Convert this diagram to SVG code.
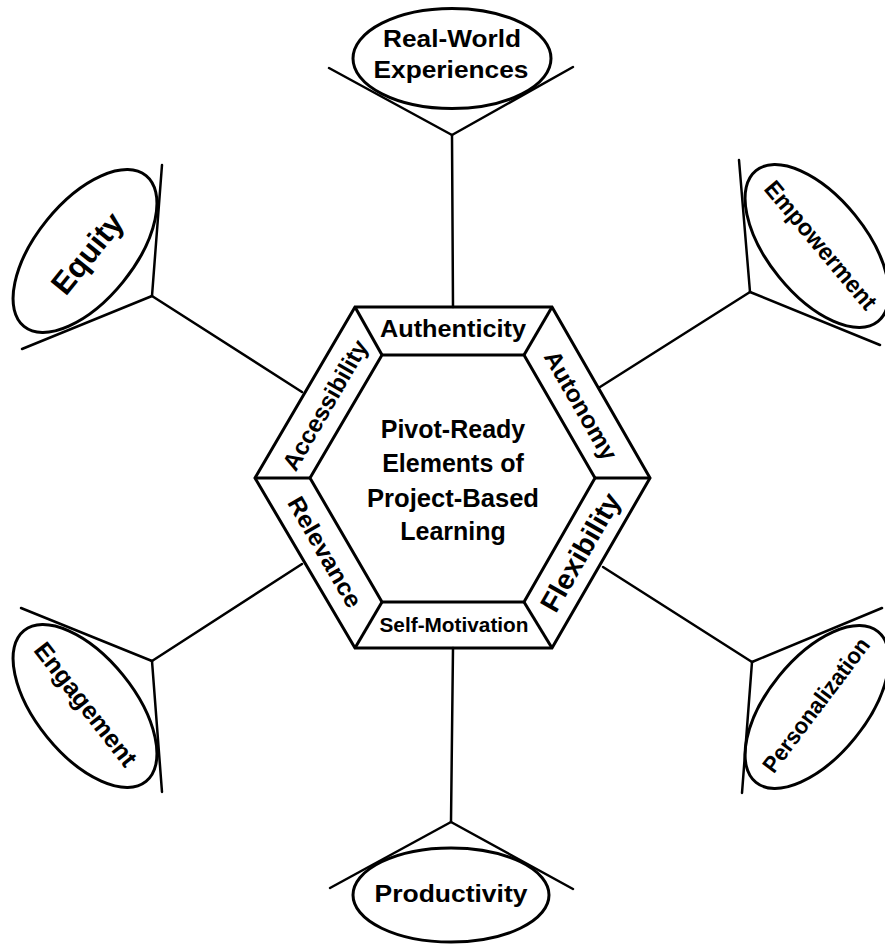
<svg xmlns="http://www.w3.org/2000/svg" width="885" height="944" viewBox="0 0 885 944">
<style>
.ln{stroke:#000;stroke-width:2.5;fill:none;stroke-linecap:round}
.el{stroke:#000;stroke-width:3;fill:none}
.hx{stroke:#000;stroke-width:3;fill:none;stroke-linejoin:miter}
.t{font-family:"Liberation Sans",Arial,sans-serif;font-weight:bold;fill:#000;text-anchor:middle}
</style>
<rect width="885" height="944" fill="#fff"/>
<g id="connectors">
<line class="ln" x1="453" y1="307" x2="452" y2="135"/>
<line class="ln" x1="452" y1="135" x2="329" y2="68"/>
<line class="ln" x1="452" y1="135" x2="573" y2="67"/>
<line class="ln" x1="453" y1="648" x2="451" y2="822"/>
<line class="ln" x1="451" y1="822" x2="330" y2="888"/>
<line class="ln" x1="451" y1="822" x2="573" y2="889"/>
<line class="ln" x1="302" y1="392" x2="152" y2="296"/>
<line class="ln" x1="152" y1="296" x2="162" y2="165"/>
<line class="ln" x1="152" y1="296" x2="22" y2="349"/>
<line class="ln" x1="600" y1="387" x2="750" y2="292"/>
<line class="ln" x1="750" y1="292" x2="739" y2="160"/>
<line class="ln" x1="750" y1="292" x2="880" y2="345"/>
<line class="ln" x1="302" y1="564" x2="152" y2="661"/>
<line class="ln" x1="152" y1="661" x2="21" y2="608"/>
<line class="ln" x1="152" y1="661" x2="162" y2="792"/>
<line class="ln" x1="603" y1="567" x2="752" y2="662"/>
<line class="ln" x1="752" y1="662" x2="882" y2="608"/>
<line class="ln" x1="752" y1="662" x2="742" y2="793"/>
</g>
<g id="hexagon">
<polygon class="hx" points="355,307 552,307 650,478 552,648 355,648 255,478"/>
<polygon class="hx" points="382,355 524,355 595,478 524,602 382,602 310,478"/>
<line class="hx" x1="355" y1="307" x2="382" y2="355"/>
<line class="hx" x1="552" y1="307" x2="524" y2="355"/>
<line class="hx" x1="650" y1="478" x2="595" y2="478"/>
<line class="hx" x1="552" y1="648" x2="524" y2="602"/>
<line class="hx" x1="355" y1="648" x2="382" y2="602"/>
<line class="hx" x1="255" y1="478" x2="310" y2="478"/>
<text class="t" x="453" y="438" font-size="25">Pivot-Ready</text>
<text class="t" x="453" y="472" font-size="25">Elements of</text>
<text class="t" x="453" y="507" font-size="25" textLength="172" lengthAdjust="spacingAndGlyphs">Project-Based</text>
<text class="t" x="453" y="540" font-size="25">Learning</text>
<text class="t" x="453" y="337" font-size="24" textLength="146" lengthAdjust="spacingAndGlyphs">Authenticity</text>
<text class="t" x="454" y="632" font-size="20" textLength="149" lengthAdjust="spacingAndGlyphs">Self-Motivation</text>
<text class="t" font-size="24" transform="translate(325,405) rotate(-60)" y="8.5" textLength="146" lengthAdjust="spacingAndGlyphs">Accessibility</text>
<text class="t" font-size="24" transform="translate(581,405) rotate(60)" y="8.5" textLength="122" lengthAdjust="spacingAndGlyphs">Autonomy</text>
<text class="t" font-size="24" transform="translate(325,552) rotate(60)" y="8.5" textLength="124" lengthAdjust="spacingAndGlyphs">Relevance</text>
<text class="t" font-size="28" transform="translate(580,552) rotate(-60)" y="10" textLength="132" lengthAdjust="spacingAndGlyphs">Flexibility</text>
</g>
<g id="real-world">
<ellipse class="el" cx="452" cy="58.5" rx="99" ry="50"/>
<text class="t" x="452" y="47" font-size="24" textLength="138" lengthAdjust="spacingAndGlyphs">Real-World</text>
<text class="t" x="451" y="78" font-size="24" textLength="155" lengthAdjust="spacingAndGlyphs">Experiences</text>
</g>
<g id="productivity">
<ellipse class="el" cx="451" cy="895" rx="98" ry="47"/>
<text class="t" x="451" y="902" font-size="24" textLength="153" lengthAdjust="spacingAndGlyphs">Productivity</text>
</g>
<g id="equity">
<ellipse class="el" cx="85" cy="251" rx="97" ry="49" transform="rotate(-51 85 251)"/>
<text class="t" font-size="31" transform="translate(87,253) rotate(-51)" y="11">Equity</text>
</g>
<g id="empowerment">
<ellipse class="el" cx="817" cy="246" rx="97" ry="49" transform="rotate(51 817 246)"/>
<text class="t" font-size="24" transform="translate(821,245) rotate(50)" y="8.5" textLength="160" lengthAdjust="spacingAndGlyphs">Empowerment</text>
</g>
<g id="engagement">
<ellipse class="el" cx="85" cy="706" rx="97" ry="49" transform="rotate(51 85 706)"/>
<text class="t" font-size="25" transform="translate(86,704) rotate(52)" y="9" textLength="150" lengthAdjust="spacingAndGlyphs">Engagement</text>
</g>
<g id="personalization">
<ellipse class="el" cx="817" cy="707" rx="97" ry="49" transform="rotate(-51 817 707)"/>
<text class="t" font-size="23" transform="translate(816,705) rotate(-53)" y="8" textLength="162" lengthAdjust="spacingAndGlyphs">Personalization</text>
</g>
</svg>
